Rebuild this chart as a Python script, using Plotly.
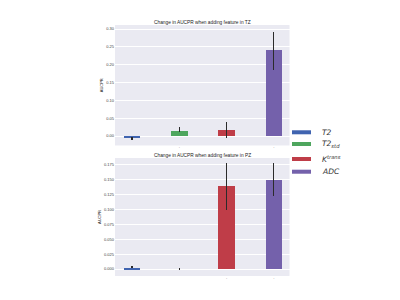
import plotly.graph_objects as go

features = ["T2", "T2std", "Ktrans", "ADC"]
legend_labels = ["<i>T2</i>", "<i>T2<sub>std</sub></i>", "<i>K<sup>trans</sup></i>", "<i>ADC</i>"]
colors = ["#4064b0", "#4ea65e", "#bf3d48", "#7461ab"]

tz_values = [-0.007, 0.015, 0.017, 0.240]
tz_err_plus = [0.003, 0.009, 0.023, 0.052]
tz_err_minus = [0.004, 0.004, 0.023, 0.055]

pz_values = [0.002, 0.000, 0.139, 0.150]
pz_err_plus = [0.0025, 0.002, 0.039, 0.028]
pz_err_minus = [0.001, 0.002, 0.039, 0.028]

tz_ticks = [0.00, 0.05, 0.10, 0.15, 0.20, 0.25, 0.30]
pz_ticks = [0.000, 0.025, 0.050, 0.075, 0.100, 0.125, 0.150, 0.175]
tz_xmarks = ["T2std", "ADC"]
pz_xmarks = ["Ktrans", "ADC"]

# manual legend layout (paper coords)
legend_y = [0.5857, 0.5467, 0.4967, 0.4543]
sw_x0, sw_x1, sw_h = 0.71, 0.7575, 0.0067
text_x = 0.78

fig = go.Figure()
for i, f in enumerate(features):
    fig.add_trace(go.Bar(
        x=[f], y=[tz_values[i]], name=features[i], marker_color=colors[i],
        marker_line_width=0, width=0.35, showlegend=False,
        error_y=dict(type="data", array=[tz_err_plus[i]], arrayminus=[tz_err_minus[i]],
                     color="#2b2b2b", thickness=1.1, width=0),
        xaxis="x", yaxis="y"))
for i, f in enumerate(features):
    fig.add_trace(go.Bar(
        x=[f], y=[pz_values[i]], name=features[i], marker_color=colors[i],
        marker_line_width=0, width=0.35, showlegend=False,
        error_y=dict(type="data", array=[pz_err_plus[i]], arrayminus=[pz_err_minus[i]],
                     color="#2b2b2b", thickness=1.1, width=0),
        xaxis="x2", yaxis="y2"))

axis_common = dict(showgrid=True, gridcolor="white", gridwidth=1, zeroline=False,
                   tickfont=dict(size=4, color="#444444", family="Liberation Sans"),
                   ticks="", showline=False)
xcommon = dict(type="category", categoryorder="array", categoryarray=features,
               range=[-0.36, 3.33], showgrid=False, zeroline=False, ticks="",
               tickfont=dict(size=4, color="#666666", family="Liberation Sans"))

shapes = []
annotations = []
for i in range(len(features)):
    shapes.append(dict(type="rect", xref="paper", yref="paper",
                       x0=sw_x0, x1=sw_x1, y0=legend_y[i] - sw_h, y1=legend_y[i] + sw_h,
                       fillcolor=colors[i], line=dict(width=0)))
    annotations.append(dict(text=legend_labels[i], x=text_x, y=legend_y[i],
                            xref="paper", yref="paper", xanchor="left", yanchor="middle",
                            showarrow=False,
                            font=dict(size=7.5, color="#333333", family="DejaVu Sans")))

annotations += [
    dict(text="Change in AUCPR when adding feature in TZ", x=0.485, y=0.951,
         xref="paper", yref="paper", xanchor="center", yanchor="middle",
         showarrow=False, font=dict(size=4.8, color="#222222", family="Liberation Sans")),
    dict(text="Change in AUCPR when adding feature in PZ", x=0.485, y=0.51,
         xref="paper", yref="paper", xanchor="center", yanchor="middle",
         showarrow=False, font=dict(size=4.8, color="#222222", family="Liberation Sans")),
]

fig.update_layout(
    width=400, height=300, margin=dict(l=0, r=0, t=0, b=0),
    paper_bgcolor="white", plot_bgcolor="#EAEAF2",
    barmode="overlay", bargap=0,
    font=dict(family="Liberation Sans", color="#222222"),
    xaxis=dict(domain=[0.2675, 0.70375], anchor="y",
               tickvals=tz_xmarks, ticktext=["'"] * len(tz_xmarks), **xcommon),
    yaxis=dict(domain=[0.5417, 0.9433], anchor="x", range=[-0.0266, 0.3112],
               tickvals=tz_ticks, tickformat=".2f",
               title=dict(text="AUCPR", font=dict(size=4, family="Liberation Sans"), standoff=2),
               **axis_common),
    xaxis2=dict(domain=[0.2675, 0.70375], anchor="y2",
                tickvals=pz_xmarks, ticktext=["'"] * len(pz_xmarks), **xcommon),
    yaxis2=dict(domain=[0.1067, 0.5], anchor="x2", range=[-0.0117, 0.1867],
                tickvals=pz_ticks, tickformat=".3f",
                title=dict(text="AUCPR", font=dict(size=4, family="Liberation Sans"), standoff=2),
                **axis_common),
    shapes=shapes,
    annotations=annotations,
)

fig.write_html("out.html")
